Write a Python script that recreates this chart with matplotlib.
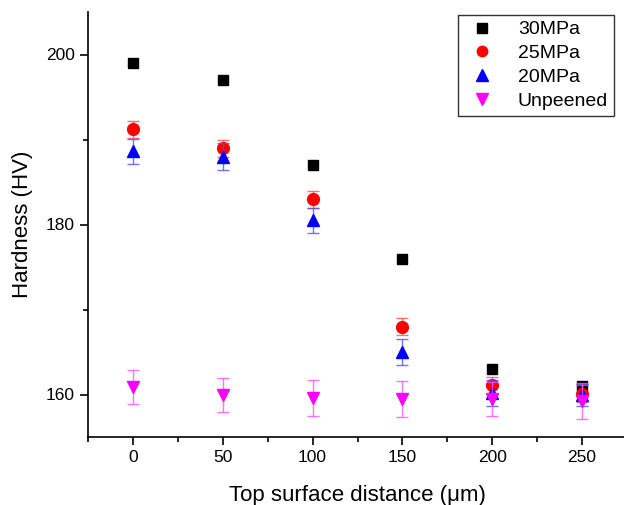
import matplotlib
matplotlib.use("Agg")
import matplotlib.pyplot as plt
from matplotlib.ticker import MultipleLocator
from matplotlib.lines import Line2D

plt.rcParams['font.family'] = ['Liberation Sans', 'DejaVu Sans']

distance = [0, 50, 100, 150, 200, 250]
hv_30 = [199.0, 197.0, 187.0, 176.0, 163.0, 161.0]
hv_25 = [191.2, 189.0, 183.0, 168.0, 161.1, 160.1]
err_25 = [1.0, 1.0, 1.0, 1.0, 1.0, 1.0]
hv_20 = [188.6, 188.0, 180.5, 165.0, 160.2, 159.9]
err_20 = [1.5, 1.6, 1.5, 1.5, 1.5, 1.3]
hv_un = [160.9, 159.9, 159.6, 159.5, 159.5, 159.2]
err_un = [2.0, 2.0, 2.1, 2.1, 2.0, 2.1]
labels = ['30MPa', '25MPa', '20MPa', 'Unpeened']

fig = plt.figure(figsize=(6.24, 5.05), dpi=100)
ax = fig.add_axes([88/624, 1-437/505, (627-88)/624, (437-12)/505])

ax.plot(distance, hv_30, 's', color='black', ms=7.5, zorder=3)
ax.errorbar(distance, hv_25, yerr=err_25, fmt='o', color='red', ms=8.5,
            ecolor=(1, 0.3, 0.3, 0.8), elinewidth=1, capsize=4, capthick=1,
            zorder=4)
ax.errorbar(distance, hv_20, yerr=err_20, fmt='^', color='blue', ms=9,
            ecolor=(0.3, 0.3, 1, 0.8), elinewidth=1, capsize=4, capthick=1,
            zorder=5)
ax.errorbar(distance, hv_un, yerr=err_un, fmt='v', color='magenta', ms=9,
            ecolor=(1, 0.3, 1, 0.8), elinewidth=1, capsize=4, capthick=1,
            zorder=6)

ax.set_xlim(-25, 275)
ax.set_ylim(155, 205)
ax.xaxis.set_major_locator(MultipleLocator(50))
ax.xaxis.set_minor_locator(MultipleLocator(25))
ax.yaxis.set_major_locator(MultipleLocator(20))
ax.yaxis.set_minor_locator(MultipleLocator(10))
ax.spines['top'].set_visible(False)
ax.spines['right'].set_visible(False)
for s in ['left', 'bottom']:
    ax.spines[s].set_linewidth(1.2)
ax.tick_params(which='major', direction='out', length=6, width=1.2, labelsize=12.5)
ax.tick_params(which='minor', direction='out', length=3.5, width=1.2)

ax.set_xlabel('Top surface distance (\u03bcm)', fontsize=16, labelpad=14)
ax.set_ylabel('Hardness (HV)', fontsize=16, labelpad=9)

handles = [
    Line2D([], [], ls='none', marker='s', color='black', ms=6.5),
    Line2D([], [], ls='none', marker='o', color='red', ms=7.5),
    Line2D([], [], ls='none', marker='^', color='blue', ms=8),
    Line2D([], [], ls='none', marker='v', color='magenta', ms=8),
]
leg = ax.legend(handles, labels, loc='upper right', bbox_to_anchor=(614/624, 1-15/505),
                bbox_transform=fig.transFigure, fontsize=14, frameon=True,
                fancybox=False, edgecolor='black', borderaxespad=0,
                handlelength=1.9, handletextpad=0.9, labelspacing=0.32,
                borderpad=0.3)
leg.get_frame().set_linewidth(1.0)

fig.savefig('out.png', dpi=100)
